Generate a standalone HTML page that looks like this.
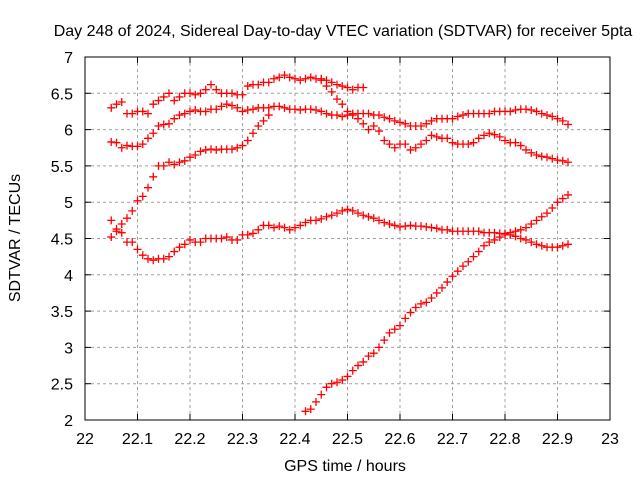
<!DOCTYPE html>
<html><head><meta charset="utf-8"><style>
body{margin:0;background:#fff}
svg text{font-family:"Liberation Sans",sans-serif;font-size:16px;fill:#000}
</style></head><body>
<svg id="c" width="640" height="480">
<text x="343" y="36" text-anchor="middle">Day 248 of 2024, Sidereal Day-to-day VTEC variation (SDTVAR) for receiver 5pta</text>
<text x="345" y="471" text-anchor="middle">GPS time / hours</text>
<text transform="translate(20,238) rotate(-90)" text-anchor="middle">SDTVAR / TECUs</text>
<g id="grid"></g>
<g id="marks"></g>
<rect x="85" y="57" width="525" height="363" fill="none" stroke="#000" stroke-width="1"/>
</svg>
<script>
const xTicks=[22,22.1,22.2,22.3,22.4,22.5,22.6,22.7,22.8,22.9,23];
const xTickLabels=["22","22.1","22.2","22.3","22.4","22.5","22.6","22.7","22.8","22.9","23"];
const yTicks=[2,2.5,3,3.5,4,4.5,5,5.5,6,6.5,7];
const yTickLabels=["2","2.5","3","3.5","4","4.5","5","5.5","6","6.5","7"];
const step=0.01;
const s1Start=22.05;
const s1=[6.3,6.35,6.38,6.22,6.22,6.25,6.25,6.22,6.35,6.4,6.45,6.5,6.4,6.45,6.5,6.5,6.48,6.5,6.55,6.62,6.55,6.5,6.5,6.5,6.48,6.48,6.6,6.62,6.62,6.65,6.65,6.7,6.72,6.75,6.72,6.7,6.68,6.7,6.72,6.7,6.7,6.68,6.65,6.62,6.6,6.58,6.55,6.58,6.58];
const s2Start=22.05;
const s2=[5.83,5.82,5.75,5.78,5.77,5.77,5.8,5.88,5.95,6.05,6.07,6.08,6.15,6.2,6.22,6.25,6.27,6.25,6.25,6.28,6.28,6.32,6.35,6.33,6.3,6.25,6.27,6.28,6.3,6.3,6.3,6.32,6.32,6.3,6.28,6.28,6.27,6.28,6.28,6.27,6.25,6.22,6.2,6.2,6.18,6.2,6.22,6.22,6.22,6.22,6.2,6.2,6.17,6.15,6.12,6.1,6.08,6.05,6.05,6.05,6.08,6.12,6.15,6.15,6.15,6.15,6.18,6.2,6.22,6.22,6.22,6.22,6.22,6.25,6.25,6.25,6.25,6.27,6.28,6.28,6.27,6.25,6.22,6.2,6.18,6.15,6.12,6.07];
const s3Start=22.05;
const s3=[4.75,4.6,4.7,4.78,4.88,5.02,5.08,5.2,5.35,5.5,5.5,5.55,5.52,5.55,5.57,5.62,5.65,5.7,5.72,5.73,5.72,5.73,5.73,5.73,5.75,5.78,5.85,5.95,6.05,6.12,6.2];
const s6Start=22.45;
const s6=[6.68,6.6,6.52,6.42,6.35,6.25,6.2,6.15,6.08,6.0,6.05,5.98,5.85,5.8,5.75,5.8,5.8,5.72,5.75,5.8,5.85,5.92,5.9,5.88,5.88,5.82,5.8,5.8,5.8,5.82,5.88,5.92,5.95,5.93,5.9,5.85,5.82,5.82,5.78,5.72,5.68,5.65,5.63,5.62,5.6,5.58,5.57,5.55];
const s4Start=22.05;
const s4=[4.52,4.63,4.58,4.45,4.45,4.35,4.27,4.22,4.2,4.22,4.22,4.25,4.32,4.38,4.42,4.48,4.45,4.45,4.5,4.5,4.5,4.5,4.52,4.48,4.48,4.55,4.55,4.57,4.62,4.68,4.68,4.65,4.67,4.65,4.62,4.65,4.68,4.72,4.75,4.75,4.77,4.8,4.82,4.85,4.88,4.9,4.88,4.85,4.82,4.8,4.78,4.75,4.72,4.7,4.68,4.66,4.67,4.68,4.67,4.67,4.66,4.65,4.64,4.62,4.62,4.6,4.6,4.6,4.6,4.6,4.6,4.58,4.58,4.58,4.57,4.57,4.55,4.53,4.5,4.48,4.45,4.42,4.4,4.38,4.38,4.38,4.4,4.42];
const s5Start=22.42;
const s5=[2.12,2.15,2.25,2.35,2.45,2.5,2.52,2.55,2.6,2.68,2.75,2.8,2.88,2.92,3.0,3.1,3.2,3.25,3.3,3.4,3.48,3.55,3.6,3.62,3.68,3.75,3.82,3.9,3.98,4.05,4.12,4.18,4.25,4.32,4.4,4.45,4.48,4.52,4.55,4.58,4.6,4.62,4.65,4.7,4.75,4.8,4.85,4.92,5.0,5.05,5.1];

const X0=85,X1=610,Y0=420,Y1=57;
const xs=h=>X0+(h-22)*(X1-X0);
const ys=v=>Y0-(v-2)/5*(Y0-Y1);
const NS="http://www.w3.org/2000/svg";
const grid=document.getElementById('grid'),marks=document.getElementById('marks');
function mk(tag,a,parent){const e=document.createElementNS(NS,tag);for(const k in a)e.setAttribute(k,a[k]);parent.appendChild(e);return e;}
xTicks.forEach((t,i)=>{const x=xs(t);
 if(i>0&&i<xTicks.length-1){const l=mk('line',{x1:x,x2:x,y1:Y1,y2:Y0,stroke:'#a0a0a0','stroke-dasharray':'3,3'},grid);
 
 }
 mk('line',{x1:x,x2:x,y1:Y0,y2:Y0-6,stroke:'#000'},grid);mk('line',{x1:x,x2:x,y1:Y1,y2:Y1+6,stroke:'#000'},grid);
 const tx=mk('text',{x:x,y:Y0+24,'text-anchor':'middle'},grid);tx.textContent=xTickLabels[i];
 
 });
yTicks.forEach((t,i)=>{const y=ys(t);
 if(i>0&&i<yTicks.length-1){const l=mk('line',{x1:X0,x2:X1,y1:y,y2:y,stroke:'#a0a0a0','stroke-dasharray':'3,3'},grid);
 
 }
 mk('line',{x1:X0,x2:X0+6,y1:y,y2:y,stroke:'#000'},grid);mk('line',{x1:X1,x2:X1-6,y1:y,y2:y,stroke:'#000'},grid);
 const tx=mk('text',{x:X0-12,y:y+6,'text-anchor':'end'},grid);tx.textContent=yTickLabels[i];
 
 });
function series(start,vals,name){const g=mk('g',{},marks);
 
 
 let d='';vals.forEach((v,i)=>{const x=xs(start+i*step),y=ys(v);d+=`M${x-4},${y}h8M${x},${y-4}v8`;});
 mk('path',{d:d,stroke:'#ff0000','stroke-width':1.3,fill:'none'},g);}
series(s1Start,s1,'series-1');series(s2Start,s2,'series-2');series(s3Start,s3,'series-3');
series(s6Start,s6,'series-6');series(s4Start,s4,'series-4');series(s5Start,s5,'series-5');
</script>
</body></html>
